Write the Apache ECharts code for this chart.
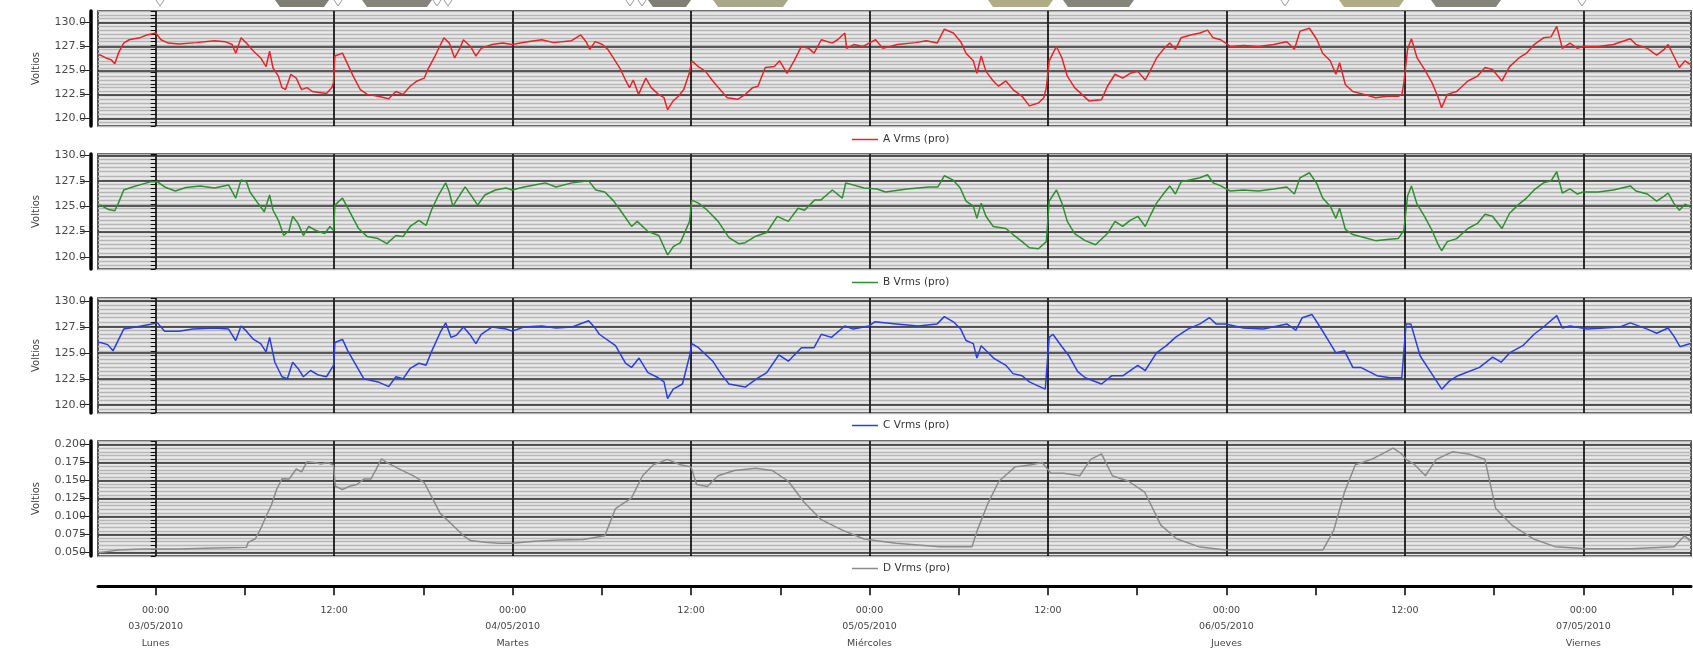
<!DOCTYPE html>
<html><head><meta charset="utf-8">
<script src="https://cdn.jsdelivr.net/npm/echarts@6/dist/echarts.min.js"></script>
<style>html,body{margin:0;padding:0;background:#fff}#c{width:1693px;height:649px}</style>
</head><body><div id="c"></div>
<script>
// ---------- DATA (hours from 00:00 03/05/2010, value) ----------
const seriesNames = ['A Vrms (pro)', 'B Vrms (pro)', 'C Vrms (pro)', 'D Vrms (pro)'];

const dataA = [[-3.88,126.6],[-3.71,126.6],[-3.35,126.3],[-2.99,126.1],[-2.75,125.7],[-2.51,126.8],[-2.15,127.85],[-1.79,128.2],[-1.08,128.4],[-0.6,128.7],[0,128.9],[0.36,128.2],[0.84,127.85],[1.56,127.75],[2.75,127.9],[3.95,128.1],[4.67,128.0],[5.14,127.7],[5.38,126.8],[5.74,128.4],[6.1,127.85],[6.58,127.0],[7.06,126.3],[7.42,125.4],[7.66,127.0],[7.89,125.25],[8.25,124.4],[8.49,123.2],[8.73,123.0],[9.09,124.6],[9.45,124.2],[9.81,123.0],[10.17,123.2],[10.53,122.8],[11.0,122.7],[11.48,122.6],[11.84,123.2],[11.95,123.7],[12.05,126.5],[12.56,126.8],[12.92,125.6],[13.28,124.4],[13.76,123.0],[14.23,122.5],[14.95,122.3],[15.67,122.05],[16.15,122.8],[16.63,122.5],[17.11,123.35],[17.58,123.9],[18.06,124.2],[18.3,125.1],[18.78,126.5],[19.38,128.4],[19.74,127.85],[20.1,126.3],[20.45,127.3],[20.69,128.2],[21.17,127.5],[21.53,126.5],[21.89,127.3],[22.61,127.7],[23.33,127.85],[23.97,127.7],[25.0,128.0],[25.96,128.2],[26.75,127.9],[27.97,128.1],[28.58,128.7],[28.94,128.0],[29.19,127.2],[29.55,128.0],[30.04,127.7],[30.4,127.2],[30.77,126.3],[31.26,125.1],[31.62,123.9],[31.86,123.2],[32.11,124.0],[32.47,122.5],[32.96,124.2],[33.32,123.2],[33.81,122.5],[34.18,122.15],[34.42,120.9],[34.78,121.8],[35.15,122.3],[35.51,123.0],[35.88,124.7],[36.05,126.0],[36.49,125.4],[36.97,124.9],[37.46,123.9],[37.95,123.0],[38.43,122.15],[39.16,122.0],[39.65,122.5],[40.14,123.2],[40.5,123.35],[40.99,125.3],[41.6,125.4],[41.96,126.0],[42.45,124.7],[42.93,126.0],[43.42,127.5],[43.91,127.3],[44.27,126.8],[44.76,128.2],[45.49,127.85],[45.85,128.2],[46.34,128.9],[46.46,127.3],[46.95,127.7],[47.56,127.5],[47.97,127.85],[48.41,128.2],[48.9,127.3],[49.87,127.7],[51.09,127.9],[51.82,128.1],[52.55,127.85],[53.03,129.3],[53.64,128.9],[54.13,128.0],[54.49,126.8],[54.98,126.0],[55.22,124.7],[55.51,126.5],[55.83,124.9],[56.32,123.9],[56.68,123.35],[57.17,123.9],[57.65,123.0],[58.26,122.3],[58.75,121.3],[59.36,121.6],[59.72,122.15],[59.89,123.2],[60.08,126.0],[60.57,127.5],[60.94,126.3],[61.3,124.4],[61.79,123.2],[62.28,122.5],[62.77,121.8],[63.6,121.95],[64.0,123.35],[64.51,124.6],[65.02,124.2],[65.53,124.7],[66.04,124.9],[66.54,124.0],[66.92,125.1],[67.3,126.3],[67.81,127.3],[68.19,127.85],[68.57,127.2],[68.95,128.4],[69.59,128.7],[70.22,128.9],[70.73,129.2],[71.11,128.4],[71.62,128.2],[72.25,127.5],[73.14,127.6],[74.16,127.5],[75.17,127.7],[76.06,128.0],[76.57,127.2],[76.95,129.1],[77.58,129.4],[78.09,128.2],[78.47,126.8],[78.98,126.0],[79.36,124.6],[79.61,125.8],[80.0,123.5],[80.5,122.8],[81.26,122.5],[82.03,122.15],[82.79,122.3],[83.55,122.3],[83.8,122.5],[83.93,123.7],[84.18,127.2],[84.44,128.3],[84.82,126.3],[85.32,125.1],[85.83,123.7],[86.21,122.3],[86.47,121.1],[86.85,122.5],[87.48,122.8],[88.24,123.9],[88.88,124.4],[89.39,125.3],[89.89,125.1],[90.53,123.9],[91.04,125.4],[91.67,126.3],[92.18,126.8],[92.69,127.7],[93.32,128.4],[93.83,128.5],[94.21,129.6],[94.59,127.3],[95.1,127.85],[95.6,127.3],[95.98,127.5],[97.0,127.5],[98.02,127.7],[99.16,128.3],[99.54,127.7],[100.3,127.3],[100.93,126.6],[101.44,127.2],[101.7,127.7],[102.08,126.5],[102.46,125.3],[102.84,126.0],[103.2,125.6]];

const dataB = [[-3.88,125.1],[-3.71,125.1],[-3.23,124.7],[-2.75,124.55],[-2.51,125.3],[-2.15,126.6],[-1.56,126.9],[-0.84,127.2],[-0.36,127.4],[0.12,127.4],[0.6,126.9],[1.32,126.5],[2.03,126.85],[2.99,127.0],[3.95,126.8],[4.9,127.1],[5.38,125.8],[5.74,127.6],[6.1,127.4],[6.34,126.4],[6.82,125.4],[7.3,124.45],[7.66,126.1],[7.89,124.6],[8.25,123.6],[8.61,122.1],[8.97,122.6],[9.21,124.0],[9.57,123.3],[9.93,122.1],[10.29,123.0],[10.77,122.6],[11.36,122.3],[11.72,123.0],[11.96,122.6],[12.05,125.1],[12.56,125.8],[12.92,124.8],[13.28,123.8],[13.64,122.8],[14.23,122.0],[14.95,121.8],[15.55,121.3],[16.15,122.1],[16.63,122.0],[17.11,123.0],[17.7,123.6],[18.18,123.1],[18.54,124.6],[19.02,126.1],[19.5,127.3],[19.74,126.4],[19.98,125.0],[20.45,126.1],[20.81,126.9],[21.29,125.9],[21.65,125.1],[22.13,126.1],[22.85,126.6],[23.56,126.8],[23.97,126.6],[24.76,126.9],[25.48,127.1],[26.2,127.3],[26.91,126.9],[28.0,127.3],[29.11,127.5],[29.6,126.6],[30.2,126.4],[30.8,125.5],[31.29,124.5],[32.0,123.0],[32.38,123.5],[33.1,122.5],[33.83,122.1],[34.42,120.2],[34.8,121.0],[35.28,121.4],[35.9,123.5],[36.05,125.6],[36.5,125.3],[37.09,124.6],[37.82,123.5],[38.55,121.9],[39.2,121.3],[39.64,121.4],[40.3,122.0],[41.09,122.4],[41.8,124.0],[42.54,123.5],[43.2,124.8],[43.63,124.6],[44.3,125.6],[44.72,125.6],[45.5,126.6],[46.17,125.8],[46.4,127.3],[47.63,126.8],[48.5,126.7],[49.08,126.4],[50.53,126.7],[51.98,126.9],[52.6,126.9],[53.03,128.0],[53.6,127.6],[54.1,126.8],[54.49,125.5],[54.98,125.0],[55.22,123.8],[55.51,125.3],[55.83,124.0],[56.32,123.0],[57.17,122.8],[57.65,122.2],[58.26,121.5],[58.75,120.9],[59.36,120.8],[59.89,121.5],[60.08,125.5],[60.57,126.6],[60.94,125.3],[61.3,123.5],[61.79,122.3],[62.5,121.6],[63.2,121.2],[64.0,122.3],[64.51,123.5],[65.02,123.0],[65.53,123.6],[66.04,124.0],[66.54,123.0],[66.92,124.2],[67.3,125.3],[67.81,126.3],[68.19,127.0],[68.57,126.2],[68.95,127.4],[69.59,127.6],[70.22,127.8],[70.73,128.1],[71.11,127.3],[71.62,127.0],[72.25,126.5],[73.14,126.6],[74.16,126.5],[75.17,126.7],[76.06,126.9],[76.57,126.2],[76.95,127.8],[77.58,128.3],[78.09,127.2],[78.47,125.8],[78.98,125.0],[79.36,123.8],[79.61,124.8],[80.0,122.7],[80.5,122.2],[81.26,121.9],[82.03,121.6],[82.79,121.7],[83.55,121.8],[83.93,122.6],[84.18,126.0],[84.44,127.0],[84.82,125.2],[85.32,124.0],[85.83,122.6],[86.21,121.3],[86.47,120.6],[86.85,121.5],[87.48,121.8],[88.24,122.8],[88.88,123.3],[89.39,124.2],[89.89,124.0],[90.53,122.8],[91.04,124.3],[91.67,125.2],[92.18,125.8],[92.69,126.6],[93.32,127.3],[93.83,127.5],[94.21,128.4],[94.59,126.3],[95.1,126.7],[95.6,126.2],[95.98,126.4],[97.0,126.4],[98.02,126.6],[99.16,127.0],[99.54,126.5],[100.3,126.2],[100.93,125.5],[101.44,126.0],[101.7,126.3],[102.08,125.3],[102.46,124.6],[102.84,125.2],[103.2,124.9]];

const dataC = [[-3.88,126.0],[-3.71,126.0],[-3.23,125.8],[-2.87,125.2],[-2.63,125.9],[-2.15,127.3],[-1.32,127.5],[-0.6,127.7],[0.12,127.9],[0.6,127.1],[1.56,127.1],[2.51,127.3],[3.95,127.4],[4.9,127.3],[5.38,126.2],[5.74,127.6],[6.1,127.1],[6.58,126.3],[7.06,125.9],[7.42,125.1],[7.66,126.5],[8.01,124.1],[8.49,122.7],[8.85,122.5],[9.21,124.1],[9.57,123.5],[9.93,122.7],[10.41,123.3],[10.89,122.9],[11.48,122.7],[11.96,123.8],[12.05,126.0],[12.56,126.3],[12.92,125.2],[13.4,124.0],[14.0,122.5],[14.95,122.2],[15.67,121.75],[16.15,122.7],[16.63,122.5],[17.11,123.5],[17.7,124.0],[18.18,123.8],[18.54,125.1],[19.14,127.0],[19.5,127.9],[19.86,126.5],[20.22,126.7],[20.69,127.5],[21.17,126.7],[21.53,125.9],[21.89,126.8],[22.61,127.5],[23.56,127.3],[23.97,127.1],[24.76,127.5],[25.96,127.6],[26.91,127.4],[28.0,127.5],[29.11,128.1],[29.55,127.4],[29.83,126.8],[30.92,125.7],[31.6,124.0],[32.0,123.6],[32.5,124.5],[33.1,123.1],[33.8,122.6],[34.18,122.2],[34.42,120.6],[34.8,121.5],[35.42,122.0],[35.9,124.7],[36.05,125.9],[36.5,125.5],[37.46,124.2],[38.0,123.0],[38.55,122.0],[39.64,121.7],[40.5,122.6],[41.09,123.1],[41.9,124.8],[42.54,124.2],[43.42,125.5],[44.27,125.5],[44.76,126.8],[45.44,126.5],[46.34,127.6],[46.9,127.3],[47.97,127.6],[48.35,128.0],[49.8,127.8],[51.26,127.6],[52.55,127.8],[53.03,128.5],[53.64,128.0],[54.13,127.3],[54.49,126.2],[54.98,125.9],[55.22,124.5],[55.51,125.7],[56.34,124.5],[57.17,123.8],[57.65,123.0],[58.26,122.8],[58.75,122.2],[59.36,121.8],[59.82,121.5],[60.08,126.5],[60.33,126.8],[60.94,125.6],[61.42,124.7],[62.0,123.2],[62.51,122.6],[63.6,122.0],[64.3,122.8],[65.05,122.8],[66.04,123.8],[66.54,123.3],[67.3,125.0],[67.96,125.7],[68.57,126.5],[69.41,127.3],[70.22,127.8],[70.86,128.4],[71.3,127.8],[71.95,127.8],[73.14,127.4],[74.49,127.3],[76.06,127.8],[76.67,127.2],[77.1,128.4],[77.76,128.7],[78.3,127.5],[78.85,126.2],[79.36,125.0],[79.94,125.2],[80.5,123.6],[81.03,123.6],[82.12,122.8],[83.0,122.6],[83.79,122.6],[84.08,127.8],[84.4,127.8],[85.03,124.7],[85.76,123.1],[86.48,121.5],[87.0,122.3],[87.57,122.8],[89.02,123.6],[89.9,124.6],[90.47,124.1],[91.04,125.0],[91.93,125.7],[92.69,126.8],[93.32,127.5],[94.21,128.6],[94.59,127.4],[95.1,127.6],[96.28,127.3],[98.46,127.5],[99.16,127.9],[100.3,127.3],[100.93,126.9],[101.7,127.4],[102.1,126.6],[102.5,125.6],[103.2,125.9]];

const dataD = [[-3.88,0.050],[-3.71,0.050],[-2.51,0.0533],[-0.84,0.0546],[1.56,0.0546],[3.95,0.056],[6.1,0.057],[6.22,0.064],[6.7,0.069],[7.06,0.083],[7.42,0.100],[7.78,0.116],[8.13,0.1375],[8.49,0.1525],[8.97,0.152],[9.45,0.166],[9.81,0.162],[10.17,0.176],[10.65,0.175],[11.12,0.173],[11.6,0.175],[11.96,0.171],[12.08,0.142],[12.56,0.1375],[13.04,0.142],[13.52,0.1445],[14.0,0.152],[14.47,0.152],[14.83,0.166],[15.19,0.180],[15.55,0.175],[15.91,0.171],[16.63,0.1635],[17.34,0.1565],[18.06,0.147],[18.54,0.128],[19.14,0.104],[19.74,0.0925],[20.22,0.083],[20.69,0.0735],[21.17,0.0665],[22.13,0.064],[23.08,0.0627],[23.97,0.0627],[25.48,0.0656],[27.1,0.0674],[28.74,0.068],[30.2,0.0733],[30.92,0.111],[32.0,0.126],[32.74,0.1567],[33.46,0.172],[34.41,0.1795],[35.28,0.172],[36.0,0.169],[36.37,0.1446],[37.09,0.1416],[37.82,0.1567],[38.91,0.164],[40.36,0.167],[41.45,0.164],[42.54,0.149],[43.63,0.119],[44.72,0.096],[46.17,0.081],[47.63,0.0687],[49.8,0.0626],[52.71,0.058],[54.89,0.058],[55.25,0.081],[55.98,0.119],[56.7,0.149],[57.79,0.169],[58.88,0.172],[59.61,0.175],[60.2,0.16],[61.05,0.16],[62.14,0.1567],[62.87,0.1795],[63.6,0.187],[64.33,0.1567],[65.42,0.149],[66.5,0.134],[67.59,0.088],[68.68,0.0687],[70.13,0.058],[71.95,0.0535],[75.22,0.0535],[78.49,0.0535],[79.22,0.081],[79.94,0.134],[80.67,0.172],[81.76,0.1795],[83.21,0.195],[83.79,0.187],[84.08,0.1795],[84.66,0.172],[85.38,0.1567],[86.11,0.1795],[87.2,0.190],[88.29,0.187],[89.38,0.1795],[90.11,0.111],[91.19,0.088],[92.65,0.0687],[94.1,0.058],[96.28,0.055],[99.19,0.055],[102.1,0.058],[102.8,0.0733],[103.2,0.0657]];

// axis extents / ticks
const xExtent = [-3.88, 103.24];
const dayLineHours = [0, 12, 24, 36, 48, 60, 72, 84, 96];
const tickHours = [0, 6, 12, 18, 24, 30, 36, 42, 48, 54, 60, 66, 72, 78, 84, 90, 96, 102];
const xLabelHours = [0, 12, 24, 36, 48, 60, 72, 84, 96];
const xLabelTexts = ['00:00\n03/05/2010\nLunes', '12:00', '00:00\n04/05/2010\nMartes', '12:00', '00:00\n05/05/2010\nMiércoles', '12:00', '00:00\n06/05/2010\nJueves', '12:00', '00:00\n07/05/2010\nViernes'];
const voltTicks = [120, 122.5, 125, 127.5, 130];
const smallTicks = [0.05, 0.075, 0.1, 0.125, 0.15, 0.175, 0.2];
const yExtents = [[119.2, 131.2], [118.8, 130.15], [119.2, 130.3], [0.045, 0.205]];
const yMinorSteps = [0.4, 0.4, 0.4, 0.005];
const yNameText = 'Voltios';

// ---------- LAYOUT ----------
const allData = [dataA, dataB, dataC, dataD];
const colors = ['#e3262b', '#2d8f2d', '#2a3fdc', '#8c8c8c'];
const tops = [11, 154, 298, 441];
const PH = 115, LEFT = 98, RIGHT = 2;
const legendTops = [134, 277, 420, 563];
const FONT = 'DejaVu Sans';

const grid = [], xAxis = [], yAxis = [], series = [], legend = [];
for (let i = 0; i < 4; i++) {
  grid.push({left: LEFT, right: RIGHT, top: tops[i], height: PH, show: true,
    backgroundColor: '#e9e9e9', borderColor: '#1e1e1e', borderWidth: 1.5});
  xAxis.push({type: 'value', gridIndex: i, min: xExtent[0], max: xExtent[1],
    axisLine: {show: false}, axisTick: {show: false}, axisLabel: {show: false}, splitLine: {show: false}});
  const major = i < 3 ? voltTicks : smallTicks;
  const dec = i < 3 ? 1 : 3;
  yAxis.push({type: 'value', gridIndex: i, min: yExtents[i][0], max: yExtents[i][1], interval: yMinorSteps[i],
    position: 'left', offset: 7, z: 1,
    axisLine: {show: false}, axisLabel: {show: false},
    axisTick: {show: true, length: 5, lineStyle: {color: '#111', width: 1}},
    splitLine: {show: true, lineStyle: {color: '#b6b6b6', width: 1.3}}});
  yAxis.push({type: 'value', gridIndex: i, min: yExtents[i][0], max: yExtents[i][1],
    position: 'left', offset: 7, z: 3,
    name: yNameText, nameLocation: 'middle', nameGap: 50, nameRotate: 90,
    nameTextStyle: {fontFamily: FONT, fontSize: 10, color: '#444'},
    axisLine: {show: true, lineStyle: {color: '#000', width: 3.5}},
    axisTick: {show: true, customValues: major, length: 11, lineStyle: {color: '#222', width: 1}},
    axisLabel: {customValues: major, formatter: v => v.toFixed(dec), fontFamily: FONT, fontSize: 11, color: '#4a4a4a', margin: 5},
    splitLine: {show: true, lineStyle: {color: '#2a2a2a', width: 1.5}}});
  series.push({type: 'line', name: seriesNames[i] + ' grid', xAxisIndex: i, yAxisIndex: 2 * i, data: [], silent: true, z: 1,
    markLine: {silent: true, symbol: ['none', 'none'], animation: false, z: 1, label: {show: false},
      lineStyle: {color: '#000', width: 1.6, type: 'solid'},
      data: dayLineHours.map(h => ({xAxis: h}))}});
  series.push({type: 'line', name: seriesNames[i], xAxisIndex: i, yAxisIndex: 2 * i + 1, data: allData[i],
    showSymbol: false, symbol: 'none', z: 4, color: colors[i],
    lineStyle: {color: colors[i], width: 1.5}, animation: false});
  legend.push({data: [seriesNames[i]], left: 852, top: legendTops[i], padding: 0, icon: 'rect',
    itemWidth: 26, itemHeight: 1.5, itemGap: 4, selectedMode: false,
    textStyle: {fontFamily: FONT, fontSize: 10.5, color: '#333'}});
}
grid.push({left: LEFT, right: RIGHT, top: 586, height: 1, show: false});
xAxis.push({type: 'value', gridIndex: 4, min: xExtent[0], max: xExtent[1], position: 'bottom',
  axisLine: {show: true, lineStyle: {color: '#000', width: 3}},
  axisTick: {show: true, customValues: tickHours, length: 9, lineStyle: {color: '#000', width: 1.5}},
  axisLabel: {customValues: xLabelHours, formatter: v => xLabelTexts[xLabelHours.indexOf(Math.round(v))],
    fontFamily: FONT, fontSize: 9.5, color: '#444', lineHeight: 16.5, margin: 16},
  splitLine: {show: false}});
yAxis.push({type: 'value', gridIndex: 4, show: false});

// decorative event tags cut off at the top edge (pixel layout)
const tagSpans = [[275, 329, '#7f7f76'], [362, 432, '#85857b'], [648, 691, '#7f7f76'], [713, 788, '#a9a78a'],
  [988, 1053, '#b0ad86'], [1063, 1134, '#85857b'], [1339, 1404, '#b0ad86'], [1431, 1501, '#85857b']];
const tagMarks = [160, 338, 437, 448, 630, 642, 1285, 1582];
const graphic = [];
tagSpans.forEach(t => graphic.push({type: 'polygon', silent: true,
  shape: {points: [[t[0], 0], [t[1], 0], [t[1] - 5, 7], [t[0] + 5, 7]]}, style: {fill: t[2]}}));
tagMarks.forEach(x => graphic.push({type: 'polyline', silent: true,
  shape: {points: [[x - 4, 0], [x, 6], [x + 4, 0]]}, style: {stroke: '#9a9a9a', lineWidth: 1, fill: null}}));

const chart = echarts.init(document.getElementById('c'), null, {renderer: 'canvas', width: 1693, height: 649});
chart.setOption({animation: false, backgroundColor: '#fff', grid, xAxis, yAxis, series, legend, graphic});
</script></body></html>
